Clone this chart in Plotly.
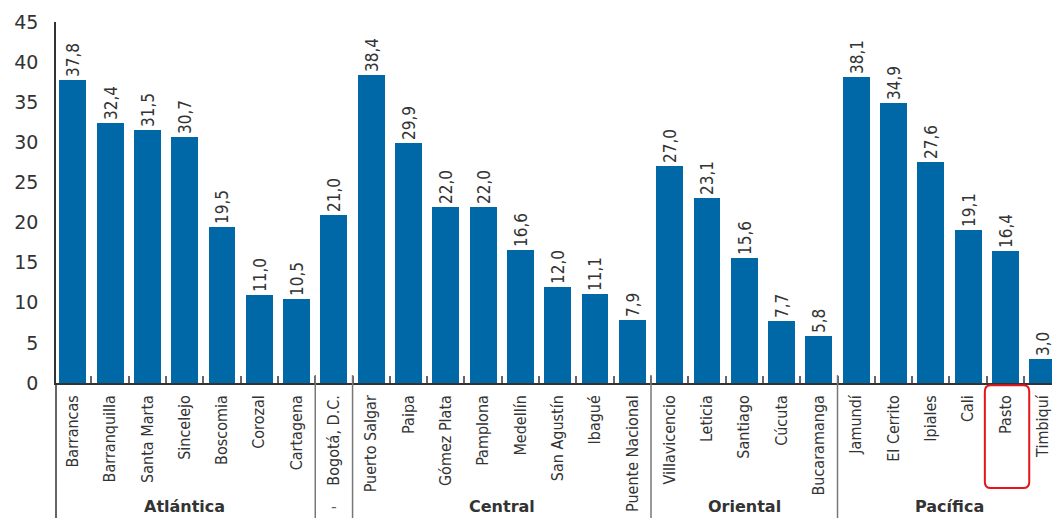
import plotly.graph_objects as go

categories = ["Barrancas", "Barranquilla", "Santa Marta", "Sincelejo", "Boscomia", "Corozal", "Cartagena",
              "Bogotá, D.C.",
              "Puerto Salgar", "Paipa", "Gómez Plata", "Pamplona", "Medellín", "San Agustín", "Ibagué", "Puente Nacional",
              "Villavicencio", "Leticia", "Santiago", "Cúcuta", "Bucaramanga",
              "Jamundí", "El Cerrito", "Ipiales", "Cali", "Pasto", "Timbiquí"]
values = [37.8, 32.4, 31.5, 30.7, 19.5, 11.0, 10.5,
          21.0,
          38.4, 29.9, 22.0, 22.0, 16.6, 12.0, 11.1, 7.9,
          27.0, 23.1, 15.6, 7.7, 5.8,
          38.1, 34.9, 27.6, 19.1, 16.4, 3.0]
group_names = ["Atlántica", "-", "Central", "Oriental", "Pacífica"]
group_sizes = [7, 1, 8, 5, 6]
highlight = "Pasto"
y_ticks = [0, 5, 10, 15, 20, 25, 30, 35, 40, 45]

BAR = "#0068A6"
TXT = "#333333"
NARROW = "DejaVu Sans Condensed, Liberation Sans Narrow, sans-serif"

x = list(range(len(categories)))
labels = [f"{v:.1f}".replace(".", ",") for v in values]

fig = go.Figure(go.Bar(
    x=x, y=values, width=0.72, marker=dict(color=BAR, line=dict(width=0)),
    text=labels, textposition="outside", textangle=-90, constraintext="none",
    cliponaxis=False, textfont=dict(family=NARROW, size=17, color=TXT),
))

shapes = []
# left axis line extension downward
shapes.append(dict(type="line", xref="paper", yref="paper", x0=0, x1=0, y0=0, y1=-0.38,
                   line=dict(color="#333333", width=1.5)))
# group separators
start = 0
bounds = []
for s in group_sizes[:-1]:
    start += s
    bounds.append(start - 0.5)
for b in bounds:
    shapes.append(dict(type="line", xref="x", yref="paper", x0=b, x1=b, y0=0.022, y1=-0.38,
                       line=dict(color="#777777", width=1.5)))

# highlight box around label
hi = categories.index(highlight)
x0, x1 = hi - 0.55, hi + 0.64
y0, y1 = -0.291, -0.006
rx, ry = 0.16, 0.017
path = (f"M {x0+rx},{y1} L {x1-rx},{y1} Q {x1},{y1} {x1},{y1-ry} "
        f"L {x1},{y0+ry} Q {x1},{y0} {x1-rx},{y0} L {x0+rx},{y0} Q {x0},{y0} {x0},{y0+ry} "
        f"L {x0},{y1-ry} Q {x0},{y1} {x0+rx},{y1} Z")
shapes.append(dict(type="path", xref="x", yref="paper", path=path,
                   line=dict(color="#E8141B", width=2)))

# group labels
annotations = []
start = 0
for name, s in zip(group_names, group_sizes):
    center = start + (s - 1) / 2
    is_dash = name == "-"
    annotations.append(dict(x=center, y=-0.343, xref="x", yref="paper", text=name,
                            showarrow=False, yanchor="middle", xanchor="center",
                            font=dict(family="DejaVu Sans", size=16,
                                      color="#666666" if is_dash else TXT,
                                      weight="normal" if is_dash else "bold")))
    start += s

fig.update_layout(
    width=1052, height=518,
    margin=dict(l=56, r=0, t=22, b=135),
    plot_bgcolor="white", paper_bgcolor="white",
    showlegend=False, bargap=0,
    shapes=shapes, annotations=annotations,
    xaxis=dict(range=[-0.45, 26.25], tickmode="array", tickvals=x, ticktext=categories,
               tickangle=-90, ticks="", showgrid=False, zeroline=False, automargin=False,
               showline=True, linecolor="#333333", linewidth=1.5,
               tickfont=dict(family=NARROW, size=16, color=TXT), ticklabelstandoff=4,
               minor=dict(tickmode="array", tickvals=[i + 0.5 for i in x[:-1]], ticks="inside",
                          ticklen=7, tickcolor="#666666", tickwidth=1.5)),
    yaxis=dict(range=[0, 45], tickvals=y_ticks, ticks="", showgrid=False, zeroline=False,
               automargin=False,
               showline=True, linecolor="#333333", linewidth=1.5,
               tickfont=dict(family="DejaVu Sans", size=19, color=TXT), ticklabelstandoff=12),
)

fig.write_html("out.html")
